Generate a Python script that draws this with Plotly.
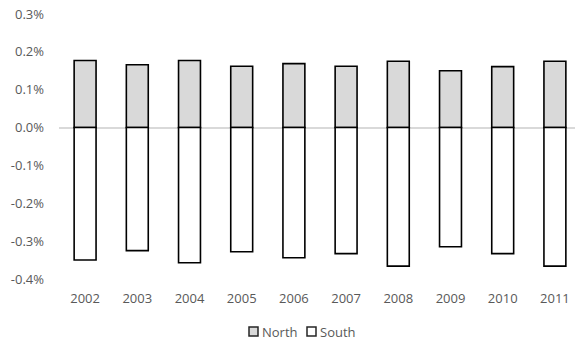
import plotly.graph_objects as go

years = ["2002", "2003", "2004", "2005", "2006", "2007", "2008", "2009", "2010", "2011"]
north = [0.00177, 0.00166, 0.00177, 0.00162, 0.00169, 0.00162, 0.00175, 0.00150, 0.00161, 0.00175]
south = [-0.00350, -0.00325, -0.00357, -0.00328, -0.00344, -0.00333, -0.00366, -0.00315, -0.00333, -0.00366]

tick_vals = [0.003, 0.002, 0.001, 0.0, -0.001, -0.002, -0.003, -0.004]
tick_text = ["0.3%", "0.2%", "0.1%", "0.0%", "-0.1%", "-0.2%", "-0.3%", "-0.4%"]

font_family = "Open Sans, Liberation Sans, sans-serif"
grey_text = "#595959"
series_fill = {"North": "#d9d9d9", "South": "#ffffff"}

W, H = 575, 346
ML, MR, MT, MB = 59, 0, 14, 67
plot_w = W - ML - MR
plot_h = H - MT - MB

fig = go.Figure()
for name, vals in (("North", north), ("South", south)):
    fig.add_trace(go.Bar(
        x=years, y=vals, name=name, showlegend=False,
        marker=dict(color=series_fill[name], line=dict(color="#000000", width=1.6)),
    ))


def px_x(px):
    return (px - ML) / plot_w


def px_y(py):
    return (H - MB - py) / plot_h


# compact legend row below the axis: small square key followed by the series name
legend_left = {"North": 249, "South": 307}
key_size = 9
key_top = 327
for name, left in legend_left.items():
    fig.add_shape(
        type="rect", xref="paper", yref="paper",
        x0=px_x(left), x1=px_x(left + key_size),
        y0=px_y(key_top + key_size), y1=px_y(key_top),
        fillcolor=series_fill[name], line=dict(color="#262626", width=1.5),
    )
    fig.add_annotation(
        xref="paper", yref="paper", x=px_x(left + key_size + 2), y=px_y(key_top + key_size / 2),
        xanchor="left", yanchor="middle", text=name, showarrow=False,
        font=dict(family=font_family, size=13, color=grey_text),
    )

fig.update_layout(
    width=W, height=H,
    margin=dict(l=ML, r=MR, t=MT, b=MB),
    paper_bgcolor="white", plot_bgcolor="white",
    barmode="relative", bargap=0.58,
    font=dict(family=font_family, size=13, color=grey_text),
    xaxis=dict(
        type="category", range=[-0.5, 9.385],
        showgrid=False, showline=False, ticks="",
        ticklabelstandoff=10,
        tickfont=dict(size=13, color=grey_text),
    ),
    yaxis=dict(
        range=[-0.004, 0.003],
        tickvals=tick_vals, ticktext=tick_text,
        showgrid=False, zeroline=True, zerolinecolor="#d9d9d9", zerolinewidth=1.5,
        showline=False, ticks="", ticklabelstandoff=14,
        tickfont=dict(size=13, color=grey_text),
    ),
)

fig.write_html("out.html")
